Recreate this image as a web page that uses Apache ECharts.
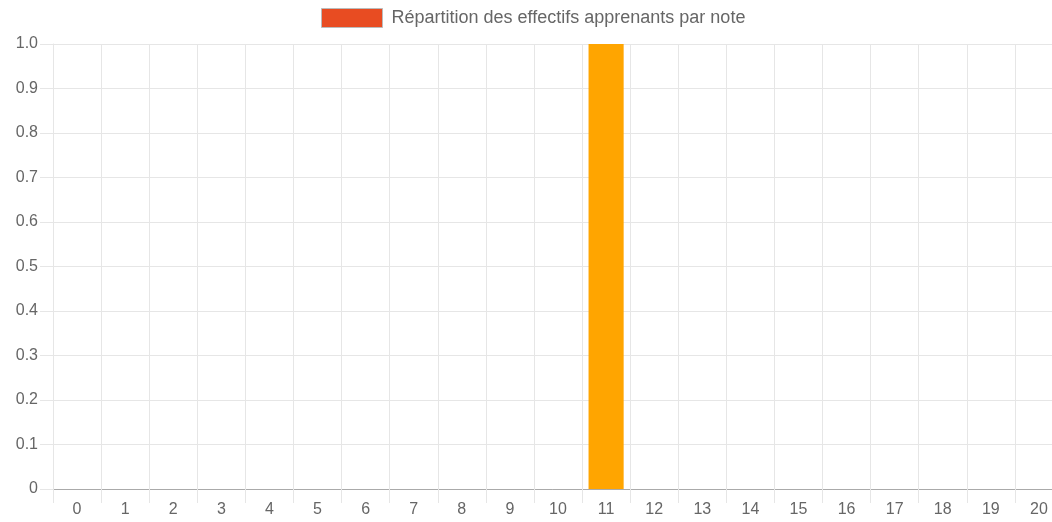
<!DOCTYPE html>
<html>
<head>
<meta charset="utf-8">
<script src="https://cdn.jsdelivr.net/npm/echarts@6/dist/echarts.min.js"></script>
<style>
  html, body { margin: 0; padding: 0; background: #fff; overflow: hidden; }
  #main { width: 1052px; height: 522px; }
</style>
</head>
<body>
<div id="main"></div>
<script>
// notes 0..20 and nombre d'apprenants par note
const notes = ['0', '1', '2', '3', '4', '5', '6', '7', '8', '9', '10',
               '11', '12', '13', '14', '15', '16', '17', '18', '19', '20'];
const effectifs = [0, 0, 0, 0, 0, 0, 0, 0, 0, 0, 0, 1, 0, 0, 0, 0, 0, 0, 0, 0, 0];
const serieNom = 'Répartition des effectifs apprenants par note';

const myChart = echarts.init(document.getElementById('main'));

const gridColor = '#e6e6e6';
const labelColor = '#666';
const fontFam = '"Liberation Sans", Arial, sans-serif';

option = {
    animation: false,
    textStyle: { fontFamily: fontFam },
    legend: {
        top: 3,
        left: 316,
        itemWidth: 61,
        itemHeight: 19,
        itemGap: 10,
        data: [{
            name: serieNom,
            icon: 'rect',
            itemStyle: { color: '#E84C22', borderColor: '#bbb', borderWidth: 1 }
        }],
        textStyle: { color: labelColor, fontSize: 18, fontFamily: fontFam, padding: [0, 0, 0, 4] }
    },
    grid: {
        left: 53,
        width: 1010,
        top: 44,
        bottom: 33,
        outerBoundsMode: 'none'
    },
    xAxis: {
        type: 'category',
        data: notes,
        boundaryGap: true,
        axisLine: { lineStyle: { color: '#aaa', width: 1 } },
        axisTick: {
            show: true,
            alignWithLabel: false,
            interval: 0,
            length: 14,
            lineStyle: { color: gridColor }
        },
        axisLabel: {
            color: labelColor,
            fontSize: 16,
            margin: 13,
            interval: 0
        },
        splitLine: { show: true, interval: 0, lineStyle: { color: gridColor } }
    },
    yAxis: {
        type: 'value',
        min: 0,
        max: 1,
        interval: 0.1,
        axisLine: { show: true, lineStyle: { color: gridColor } },
        axisTick: { show: true, length: 13, lineStyle: { color: gridColor } },
        axisLabel: {
            color: labelColor,
            fontSize: 16,
            margin: 15,
            formatter: function (v) {
                return v === 0 ? '0' : v.toFixed(1);
            }
        },
        splitLine: { show: true, lineStyle: { color: gridColor } }
    },
    series: [{
        name: serieNom,
        type: 'bar',
        data: effectifs,
        barWidth: '73%',
        itemStyle: { color: '#FFA500' }
    }]
};

myChart.setOption(option);
</script>
</body>
</html>
